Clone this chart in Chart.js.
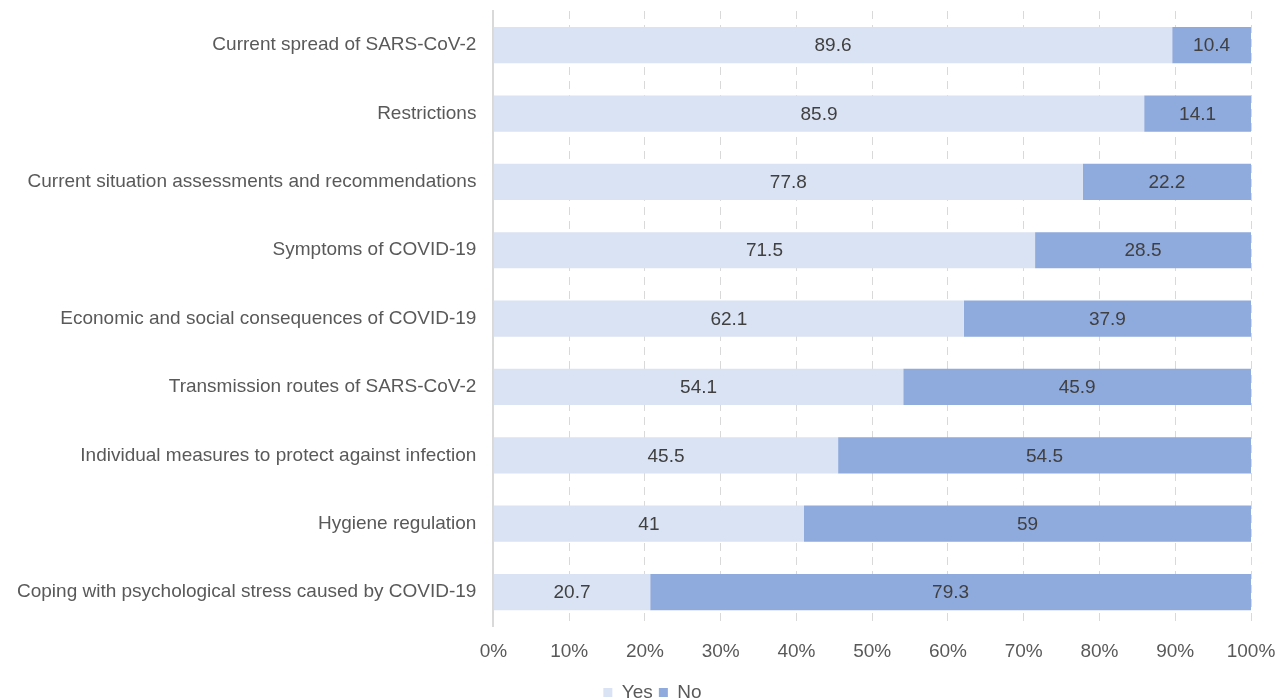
<!DOCTYPE html>
<html>
<head>
<meta charset="utf-8">
<script src="https://cdn.jsdelivr.net/npm/chart.js@4/dist/chart.umd.min.js"></script>
<style>
  html, body { margin: 0; padding: 0; background: #fff; }
  #wrap { width: 1277px; height: 699px; position: relative; }
</style>
</head>
<body>
<div id="wrap"><canvas id="myChart"></canvas></div>
<script>
// data
const topics = [
  "Current spread of SARS-CoV-2",
  "Restrictions",
  "Current situation assessments and recommendations",
  "Symptoms of COVID-19",
  "Economic and social consequences of COVID-19",
  "Transmission routes of SARS-CoV-2",
  "Individual measures to protect against infection",
  "Hygiene regulation",
  "Coping with psychological stress caused by COVID-19"
];
const yesValues = [89.6, 85.9, 77.8, 71.5, 62.1, 54.1, 45.5, 41, 20.7];
const noValues = [10.4, 14.1, 22.2, 28.5, 37.9, 45.9, 54.5, 59, 79.3];

const FONT = "'Liberation Sans', Arial, sans-serif";

// writes the value in the middle of each bar
const barValues = {
  id: "barValues",
  afterDatasetsDraw(chart) {
    const ctx = chart.ctx;
    ctx.save();
    ctx.font = "19px " + FONT;
    ctx.fillStyle = "#404040";
    ctx.textAlign = "center";
    ctx.textBaseline = "middle";
    chart.data.datasets.forEach(function(ds, i) {
      chart.getDatasetMeta(i).data.forEach(function(bar, j) {
        const p = bar.getProps(["x", "y", "base"], true);
        ctx.fillText(String(ds.data[j]), (p.x + p.base) / 2, p.y + 1);
      });
    });
    ctx.restore();
  }
};

// legend in the original sits a bit right of the page centre
const legendShift = {
  id: "legendShift",
  afterLayout(chart) {
    chart.legend.left += 54;
  }
};

// drop the room chart.js keeps for overhanging tick labels
function noOverhang(scale) {
  scale.paddingTop = 0;
  scale.paddingBottom = 0;
  scale.paddingLeft = 0;
  scale.paddingRight = 0;
}

const ctx = document.getElementById("myChart").getContext("2d");
new Chart(ctx, {
  type: "bar",
  data: {
    labels: topics,
    datasets: [
      { label: "Yes", data: yesValues, backgroundColor: "#dae3f3", borderWidth: 0 },
      { label: "No", data: noValues, backgroundColor: "#8faadc", borderWidth: 0 }
    ]
  },
  options: {
    indexAxis: "y",
    responsive: true,
    maintainAspectRatio: false,
    animation: false,
    barPercentage: 0.53,
    categoryPercentage: 1,
    layout: { padding: { left: 0, right: 26, top: 11, bottom: -13 } },
    scales: {
      x: {
        stacked: true,
        min: 0,
        max: 100,
        afterFit: noOverhang,
        ticks: {
          stepSize: 10,
          color: "#595959",
          font: { family: FONT, size: 19 },
          padding: 14,
          callback: function(v) { return v + "%"; }
        },
        grid: {
          color: "#d9d9d9",
          drawTicks: false
        },
        border: { display: false, dash: [8, 6] }
      },
      y: {
        stacked: true,
        afterFit: noOverhang,
        ticks: {
          color: "#595959",
          font: { family: FONT, size: 19 },
          padding: 17
        },
        grid: { display: false, drawTicks: false },
        border: { display: true, color: "#d9d9d9", width: 2 }
      }
    },
    plugins: {
      legend: {
        position: "bottom",
        labels: {
          boxWidth: 9,
          boxHeight: 9,
          padding: 6,
          color: "#595959",
          font: { family: FONT, size: 19 }
        }
      },
      tooltip: { enabled: false }
    }
  },
  plugins: [barValues, legendShift]
});
</script>
</body>
</html>
